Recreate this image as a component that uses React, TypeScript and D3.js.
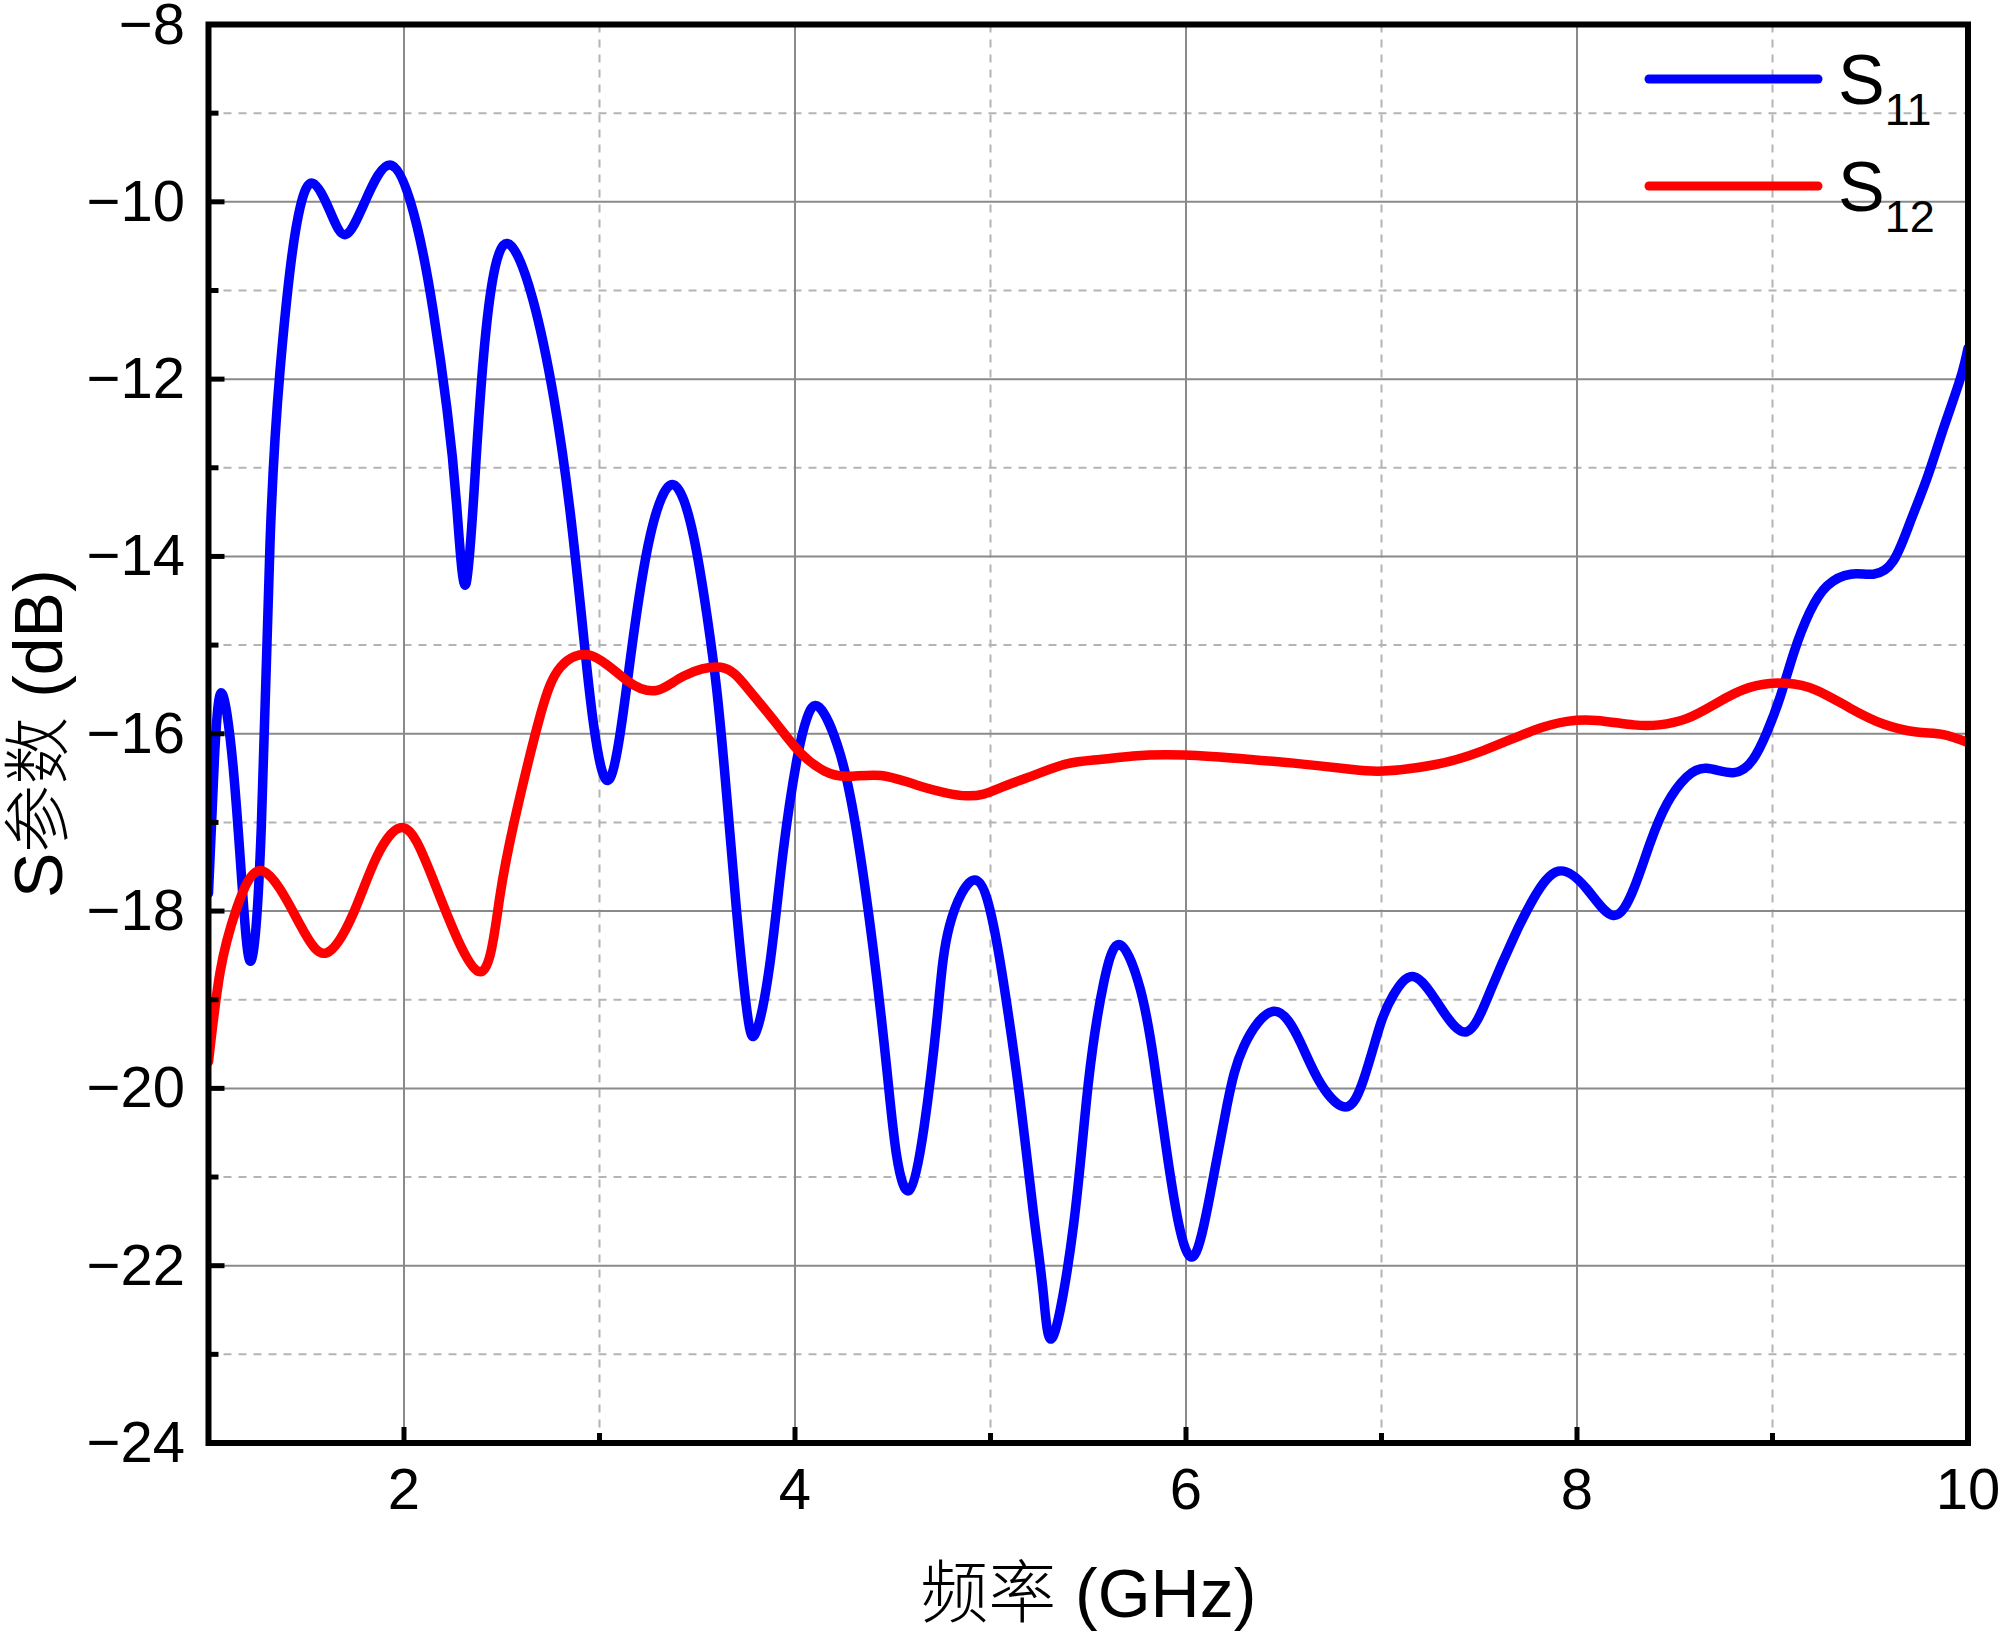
import React from 'react';
import * as d3 from 'd3';

// S-parameter curves (frequency in GHz, value in dB)
const s11Freq = [1.0, 1.03, 1.067, 1.127, 1.178, 1.22, 1.27, 1.315, 1.366, 1.42, 1.47, 1.533, 1.62, 1.70, 1.80, 1.938,
  2.066, 2.15, 2.22, 2.27, 2.317, 2.37, 2.42, 2.475, 2.55, 2.66, 2.766, 2.85, 2.92, 2.97, 3.055,
  3.16, 3.26, 3.376, 3.48, 3.55, 3.60, 3.65, 3.70, 3.755, 3.80, 3.87, 3.94, 4.01, 4.06, 4.124,
  4.23, 4.317, 4.40, 4.47, 4.52, 4.585, 4.66, 4.73, 4.79, 4.92, 5.016, 5.08, 5.15, 5.22, 5.27, 5.32,
  5.425, 5.50, 5.58, 5.664, 5.766, 5.835, 5.90, 5.97, 6.044, 6.124, 6.21, 6.295, 6.45, 6.585, 6.687, 6.815,
  6.91, 6.994, 7.06, 7.165, 7.30, 7.437, 7.557, 7.676, 7.78, 7.905, 8.05, 8.186, 8.29, 8.373, 8.46, 8.56,
  8.663, 8.80, 8.90, 8.97, 9.04, 9.11, 9.19, 9.28, 9.40, 9.516, 9.618, 9.703, 9.79, 9.874, 9.96, 10.0];
const s11Val = [-17.8, -16.3, -15.54, -16.4, -17.9, -18.55, -17.06, -13.83, -11.9, -10.72, -10.05, -9.79, -10.1, -10.37, -10.0, -9.59,
  -10.27, -11.24, -12.34, -13.44, -14.31, -12.86, -11.44, -10.66, -10.5, -11.11, -12.21, -13.5, -14.93, -15.9, -16.5,
  -15.12, -13.76, -13.19, -13.76, -14.67, -15.51, -16.68, -17.97, -19.14, -19.37, -18.62, -17.32, -16.29, -15.83, -15.7,
  -16.22, -17.13, -18.43, -19.79, -20.76, -21.15, -20.44, -19.14, -18.17, -17.65, -18.17, -19.0, -20.11, -21.41, -22.31, -22.8,
  -21.54, -19.95, -18.8, -18.38, -18.88, -19.68, -20.69, -21.6, -21.88, -21.19, -20.19, -19.53, -19.13, -19.48, -19.94, -20.21,
  -19.89, -19.28, -18.95, -18.74, -19.08, -19.36, -18.9, -18.3, -17.85, -17.55, -17.75, -18.05, -17.75, -17.24, -16.79, -16.49,
  -16.39, -16.44, -16.29, -15.99, -15.58, -15.08, -14.63, -14.33, -14.2, -14.2, -14.05, -13.62, -13.12, -12.56, -12.0, -11.65];

const s12Freq = [1.0, 1.06, 1.144, 1.28, 1.47, 1.605, 1.74, 1.86, 1.997, 2.15, 2.38, 2.49, 2.59, 2.70, 2.80, 2.96,
  3.14, 3.294, 3.43, 3.62, 3.755, 3.91, 4.03, 4.15, 4.27, 4.44, 4.625, 4.88, 5.05, 5.22, 5.39, 5.56,
  5.73, 5.99, 6.33, 6.585, 6.84, 7.01, 7.27, 7.52, 7.78, 7.95, 8.10, 8.29, 8.42, 8.56, 8.71, 8.88,
  9.07, 9.226, 9.396, 9.567, 9.737, 9.874, 10.0];
const s12Val = [-19.7, -18.68, -17.97, -17.55, -18.16, -18.47, -18.03, -17.39, -17.06, -17.65, -18.68, -17.84, -16.74, -15.77, -15.25, -15.12,
  -15.4, -15.51, -15.35, -15.25, -15.48, -15.9, -16.22, -16.42, -16.48, -16.47, -16.58, -16.7, -16.61, -16.47, -16.34, -16.29,
  -16.25, -16.24, -16.29, -16.34, -16.4, -16.42, -16.35, -16.19, -15.96, -15.86, -15.85, -15.9, -15.9, -15.83, -15.66, -15.48,
  -15.43, -15.51, -15.71, -15.89, -15.98, -16.01, -16.1];

const xMajor = [2, 4, 6, 8, 10];
const xMinor = [3, 5, 7, 9];
const yMajor = [-8, -10, -12, -14, -16, -18, -20, -22, -24];
const yMinor = [-9, -11, -13, -15, -17, -19, -21, -23];

const seriesNames = ['11', '12'];
const seriesColors = ['#0000ff', '#ff0000'];

const W = 2000, H = 1633;
const L = 208.5, R = 1968, T = 24.5, B = 1443;
const FONT = '"Liberation Sans", Arial, "Noto Sans CJK SC", sans-serif';

const App = () => {
  const x = d3.scaleLinear().domain([1, 10]).range([L, R]);
  const y = d3.scaleLinear().domain([-24, -8]).range([B, T]);

  const line = d3.line<[number, number]>()
    .x(d => x(d[0]))
    .y(d => y(d[1]))
    .curve(d3.curveNatural);

  const s11 = s11Freq.map((f, i) => [f, s11Val[i]] as [number, number]);
  const s12 = s12Freq.map((f, i) => [f, s12Val[i]] as [number, number]);
  const series = [s11, s12];

  const minus = (v: number) => (v < 0 ? '\u2212' + Math.abs(v) : String(v));

  return (
    <svg width={W} height={H} style={{ position: 'absolute', left: 0, top: 0, background: '#fff' }}
      fontFamily={FONT}>
      <defs>
        <clipPath id="plot">
          <rect x={L} y={T} width={R - L} height={B - T} />
        </clipPath>
      </defs>

      {/* grid */}
      {xMinor.map(v => (
        <line key={'gx' + v} x1={x(v)} x2={x(v)} y1={T} y2={B} stroke="#b4b4b4" strokeWidth={2} strokeDasharray="8 7" />
      ))}
      {yMinor.map(v => (
        <line key={'gy' + v} x1={L} x2={R} y1={y(v)} y2={y(v)} stroke="#b4b4b4" strokeWidth={2} strokeDasharray="8 7" />
      ))}
      {xMajor.map(v => (
        <line key={'Gx' + v} x1={x(v)} x2={x(v)} y1={T} y2={B} stroke="#8a8a8a" strokeWidth={2} />
      ))}
      {yMajor.map(v => (
        <line key={'Gy' + v} x1={L} x2={R} y1={y(v)} y2={y(v)} stroke="#8a8a8a" strokeWidth={2} />
      ))}

      {/* curves */}
      <g clipPath="url(#plot)">
        {series.map((s, i) => (
          <path key={i} d={line(s) ?? ''} fill="none" stroke={seriesColors[i]} strokeWidth={9.5}
            strokeLinejoin="round" strokeLinecap="round" />
        ))}
      </g>

      {/* ticks (inward) */}
      {xMajor.map(v => (
        <line key={'tx' + v} x1={x(v)} x2={x(v)} y1={B} y2={B - 16} stroke="#000" strokeWidth={5} />
      ))}
      {xMinor.map(v => (
        <line key={'mx' + v} x1={x(v)} x2={x(v)} y1={B} y2={B - 10} stroke="#000" strokeWidth={5} />
      ))}
      {yMajor.map(v => (
        <line key={'ty' + v} x1={L} x2={L + 16} y1={y(v)} y2={y(v)} stroke="#000" strokeWidth={5} />
      ))}
      {yMinor.map(v => (
        <line key={'my' + v} x1={L} x2={L + 10} y1={y(v)} y2={y(v)} stroke="#000" strokeWidth={5} />
      ))}

      {/* frame */}
      <rect x={L} y={T} width={R - L} height={B - T} fill="none" stroke="#000" strokeWidth={6} />

      {/* tick labels */}
      {xMajor.map(v => (
        <text key={'lx' + v} x={x(v)} y={1509} fontSize={58} textAnchor="middle" fill="#000">{v}</text>
      ))}
      {yMajor.map(v => (
        <text key={'ly' + v} x={185} y={y(v) + 19} fontSize={58} textAnchor="end" fill="#000">{minus(v)}</text>
      ))}

      {/* axis titles */}
      <text x={(L + R) / 2} y={1617} fontSize={68} textAnchor="middle" fill="#000">
        <tspan fontWeight={300}>频率</tspan> (GHz)
      </text>
      <text transform={`translate(62,${(T + B) / 2}) rotate(-90)`} fontSize={68} textAnchor="middle" fill="#000">
        S<tspan fontWeight={300}>参数</tspan> (dB)
      </text>

      {/* legend */}
      {seriesNames.map((n, i) => {
        const ly = 79 + i * 107;
        return (
          <g key={'lg' + n}>
            <line x1={1649} x2={1818} y1={ly} y2={ly} stroke={seriesColors[i]} strokeWidth={9} strokeLinecap="round" />
            <text x={1838} y={ly + 25} fontSize={70} fill="#000">
              S<tspan fontSize={45} dy={21}>{n}</tspan>
            </text>
          </g>
        );
      })}
    </svg>
  );
};

export default App;
